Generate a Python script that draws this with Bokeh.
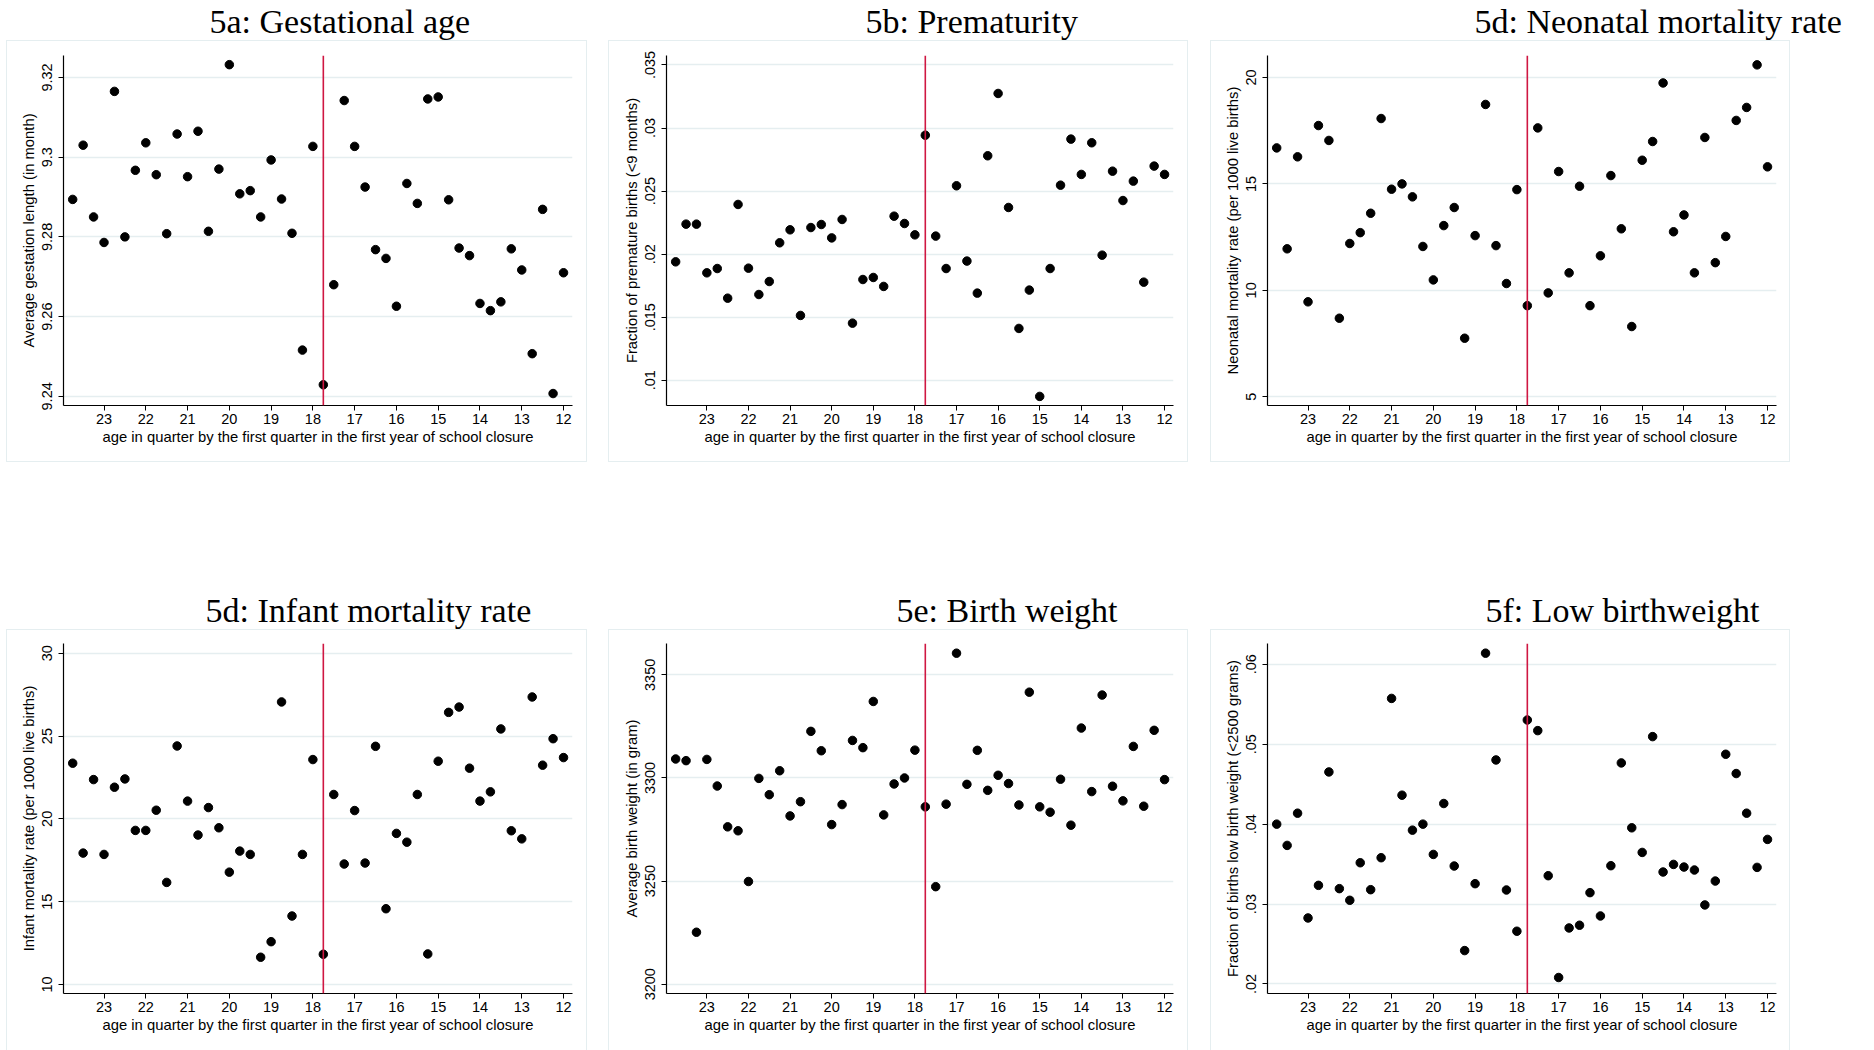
from bokeh.plotting import figure
from bokeh.models import Span, FixedTicker, Range1d, ColumnDataSource, InlineStyleSheet, Title
from bokeh.layouts import column, row
from bokeh.embed import file_html
from bokeh.resources import INLINE

# ---------------- data ----------------
age_quarter = [23.75, 23.5, 23.25, 23.0, 22.75, 22.5, 22.25, 22.0, 21.75, 21.5, 21.25, 21.0,
               20.75, 20.5, 20.25, 20.0, 19.75, 19.5, 19.25, 19.0, 18.75, 18.5, 18.25, 18.0,
               17.75, 17.5, 17.25, 17.0, 16.75, 16.5, 16.25, 16.0, 15.75, 15.5, 15.25, 15.0,
               14.75, 14.5, 14.25, 14.0, 13.75, 13.5, 13.25, 13.0, 12.75, 12.5, 12.25, 12.0]
x_ticks = [23, 22, 21, 20, 19, 18, 17, 16, 15, 14, 13, 12]
cutoff = 17.75

gestational_age = [9.2894, 9.3030, 9.2850, 9.2786, 9.3165, 9.2800, 9.2967, 9.3036, 9.2956, 9.2808,
                   9.3058, 9.2951, 9.3065, 9.2814, 9.2970, 9.3232, 9.2908, 9.2916, 9.2850, 9.2993,
                   9.2895, 9.2809, 9.2516, 9.3027, 9.2429, 9.2680, 9.3142, 9.3027, 9.2925, 9.2768,
                   9.2746, 9.2626, 9.2934, 9.2884, 9.3146, 9.3151, 9.2893, 9.2772, 9.2753, 9.2633,
                   9.2615, 9.2637, 9.2770, 9.2717, 9.2507, 9.2869, 9.2407, 9.2710]
prematurity = [.01939, .02238, .02238, .01852, .01886, .01651, .02394, .01889, .01680, .01783,
               .02090, .02193, .01514, .02211, .02235, .02129, .02275, .01453, .01799, .01815,
               .01744, .02301, .02243, .02153, .02943, .02143, .01886, .02542, .01945, .01691,
               .02780, .03274, .02370, .01411, .01715, .00872, .01886, .02547, .02912, .02632,
               .02883, .01992, .02658, .02425, .02579, .01778, .02698, .02632]
neonatal = [16.69, 11.95, 16.27, 9.46, 17.74, 17.04, 8.69, 12.20, 12.71, 13.62,
            18.07, 14.75, 15.00, 14.39, 12.06, 10.49, 13.04, 13.89, 7.75, 12.57,
            18.73, 12.10, 10.32, 14.73, 9.28, 17.63, 9.88, 15.58, 10.82, 14.89,
            9.28, 11.62, 15.39, 12.89, 8.30, 16.11, 16.99, 19.74, 12.75, 13.54,
            10.82, 17.18, 11.30, 12.53, 17.98, 18.59, 20.59, 15.80]
infant = [23.36, 17.93, 22.37, 17.85, 21.91, 22.41, 19.30, 19.30, 20.52, 16.16,
          24.40, 21.07, 19.02, 20.68, 19.46, 16.78, 18.05, 17.85, 11.64, 12.58,
          27.06, 14.13, 17.85, 23.58, 11.82, 21.47, 17.27, 20.50, 17.33, 24.38,
          14.57, 19.12, 18.59, 21.47, 11.84, 23.48, 26.43, 26.75, 23.06, 21.07,
          21.63, 25.43, 19.28, 18.79, 27.36, 23.24, 24.84, 23.70]
birth_weight = [3309.2, 3308.4, 3225.2, 3309.0, 3296.1, 3276.3, 3274.4, 3249.8, 3299.8, 3291.9,
                3303.5, 3281.6, 3288.5, 3322.6, 3313.2, 3277.4, 3287.1, 3318.2, 3314.7, 3337.1,
                3282.1, 3297.1, 3300.0, 3313.5, 3286.0, 3247.3, 3287.3, 3360.5, 3296.9, 3313.4,
                3294.0, 3301.3, 3297.3, 3286.9, 3341.6, 3286.0, 3283.4, 3299.4, 3277.1, 3324.2,
                3293.4, 3340.2, 3296.0, 3288.9, 3315.3, 3286.3, 3323.1, 3299.2]
low_birthweight = [.0400, .03734, .04137, .02826, .03234, .04653, .03193, .03047, .03517, .03180,
                   .03580, .05573, .04362, .03925, .0400, .03621, .04258, .03476, .02418, .03255,
                   .06139, .04803, .03176, .02660, .05303, .05170, .03355, .02081, .02701, .02735,
                   .03143, .02851, .03480, .04766, .03954, .03646, .05095, .03401, .03496, .03463,
                   .03426, .02989, .03288, .04874, .04633, .04137, .03459, .03809]

titles = ["5a: Gestational age", "5b: Prematurity", "5d: Neonatal mortality rate",
          "5d: Infant mortality rate", "5e: Birth weight", "5f: Low birthweight"]
y_labels = ["Average gestation length (in month)", "Fraction of premature births (<9 months)",
            "Neonatal mortality rate (per 1000 live births)", "Infant mortality rate (per 1000 live births)",
            "Average birth weight (in gram)", "Fraction of births low birth weight (<2500 grams)"]
x_label = "age in quarter by the first quarter in the first year of school closure"

y_ticks = [[9.24, 9.26, 9.28, 9.30, 9.32],
           [.01, .015, .02, .025, .03, .035],
           [5, 10, 15, 20],
           [10, 15, 20, 25, 30],
           [3200, 3250, 3300, 3350],
           [.02, .03, .04, .05, .06]]
y_tick_labels = [["9.24", "9.26", "9.28", "9.3", "9.32"],
                 [".01", ".015", ".02", ".025", ".03", ".035"],
                 ["5", "10", "15", "20"],
                 ["10", "15", "20", "25", "30"],
                 ["3200", "3250", "3300", "3350"],
                 [".02", ".03", ".04", ".05", ".06"]]
y_ranges = [(9.2377, 9.3255), (.0080, .03575), (4.59, 21.03),
            (9.45, 30.59), (3195.5, 3365.2), (.01881, .0626)]
series = [gestational_age, prematurity, neonatal, infant, birth_weight, low_birthweight]

# ---------------- layout / style ----------------
col_w = [600, 600, 674]
col_left = [63, 66, 67]
col_right = [28, 27, 98]
row_h = [589, 461]
row_bottom = [184, 57]
title_off = [[146, 199, 207], [142, 230, 218]]
box_lr = [(6, 587), (8, 588), (10, 590)]
box_tb = [(40, 462), (40, 475)]
spacer_standoff = [3, 2]

GRID = "#e5eef0"
RED = "#cf1742"


def make_panel(k, r, c):
    p = figure(width=col_w[c], height=row_h[r], output_backend="svg", toolbar_location=None,
               x_range=Range1d(23.97, 11.785), y_range=Range1d(*y_ranges[k]),
               min_border_left=col_left[c], min_border_right=col_right[c],
               min_border_top=0, min_border_bottom=row_bottom[r],
               title=titles[k])
    p.background_fill_color = "white"
    p.border_fill_color = "white"
    p.outline_line_color = None

    p.title.align = "left"
    p.title.offset = title_off[r][c]
    p.title.text_font = "Liberation Serif"
    p.title.text_font_size = "34px"
    p.title.text_font_style = "normal"
    p.title.text_color = "black"
    p.title.standoff = 0

    # blank spacer between the title and the plot frame
    p.add_layout(Title(text=" ", text_font_size="10px", standoff=spacer_standoff[r]), "above")

    l, rr = box_lr[c]
    t, b = box_tb[r]
    css = (":host::after { content: ''; position: absolute; pointer-events: none; "
           f"left: {l}px; top: {t}px; width: {rr - l}px; height: {b - t}px; "
           f"border: 1px solid {GRID}; box-sizing: border-box; }}")
    p.stylesheets = [InlineStyleSheet(css=css)]

    src = ColumnDataSource(dict(x=age_quarter, y=series[k]))
    p.scatter("x", "y", source=src, size=8.5, fill_color="black", line_color="black")

    p.add_layout(Span(location=cutoff, dimension="height", line_color=RED, line_width=1.6))

    p.xgrid.visible = False
    p.ygrid.grid_line_color = GRID
    p.ygrid.grid_line_width = 1.5
    p.ygrid.ticker = FixedTicker(ticks=y_ticks[k])

    xa = p.xaxis[0]
    xa.ticker = FixedTicker(ticks=x_ticks)
    xa.axis_label = x_label
    ya = p.yaxis[0]
    ya.ticker = FixedTicker(ticks=y_ticks[k])
    ya.major_label_overrides = dict(zip(y_ticks[k], y_tick_labels[k]))
    ya.axis_label = y_labels[k]
    ya.major_label_orientation = "vertical"

    for ax in (xa, ya):
        ax.axis_line_color = "black"
        ax.axis_line_width = 1.2
        ax.major_tick_line_color = "black"
        ax.major_tick_line_width = 1
        ax.major_tick_out = 5
        ax.major_tick_in = 0
        ax.minor_tick_line_color = None
        ax.major_label_text_font = "Liberation Sans"
        ax.major_label_text_font_size = "14.5px"
        ax.major_label_text_color = "black"
        ax.axis_label_text_font = "Liberation Sans"
        ax.axis_label_text_font_size = "14.8px"
        ax.axis_label_text_font_style = "normal"
        ax.axis_label_text_color = "black"
    xa.major_label_standoff = 3
    xa.axis_label_standoff = 2
    ya.major_label_standoff = 6
    ya.axis_label_standoff = 3
    return p


panels = []
for k in range(6):
    r, c = divmod(k, 3)
    panels.append(make_panel(k, r, c))

layout = column(row(panels[0], panels[1], panels[2]), row(panels[3], panels[4], panels[5]))
open("out.html", "w").write(file_html(layout, INLINE))
